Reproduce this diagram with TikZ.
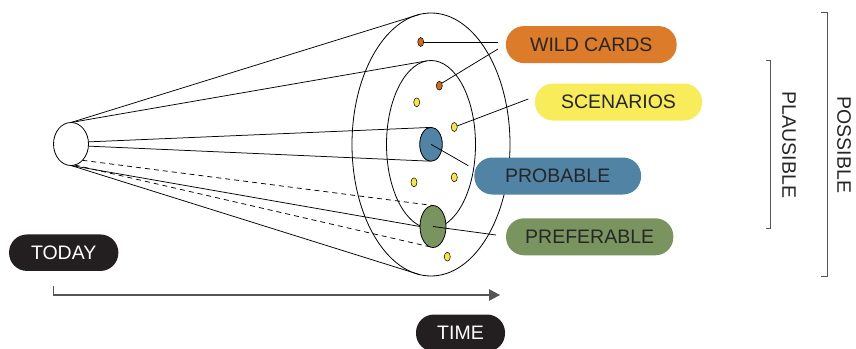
\documentclass[tikz,border=0pt]{standalone}
\usepackage{fontspec}
\setmainfont{Liberation Sans}
\usetikzlibrary{shapes.geometric,arrows.meta}
\definecolor{ink}{HTML}{262626}
\definecolor{night}{HTML}{231F20}
\definecolor{wildc}{HTML}{DC7B2A}
\definecolor{scenc}{HTML}{F8EC5B}
\definecolor{probc}{HTML}{5083A4}
\definecolor{prefc}{HTML}{7A9460}
\definecolor{dotyellow}{HTML}{F6E545}
\definecolor{dotorange}{HTML}{D06A20}
\definecolor{axisgray}{HTML}{555555}
\begin{document}
\begin{tikzpicture}[x=1pt,y=-1pt,
  ring/.style 2 args={ellipse, draw=black, line width=0.8pt, inner sep=0pt, outer sep=0pt,
    minimum width=#1, minimum height=#2},
  dot/.style={ellipse, draw=black, line width=0.5pt, fill=#1, inner sep=0pt, outer sep=0pt,
    minimum width=6pt, minimum height=9pt},
  cone/.style={line width=0.75pt},
  conedash/.style={line width=0.75pt, dash pattern=on 5pt off 4pt},
  link/.style={line width=0.75pt},
  labelfont/.style={font=\fontsize{19.5}{23}\selectfont},
  pill/.style={fill=#1, rounded corners=18pt, minimum height=37pt, inner sep=0pt,
    labelfont, text=ink},
  darkpill/.style={fill=night, rounded corners=18pt, minimum height=36.5pt, inner sep=0pt,
    labelfont, text=white},
  bracket/.style={draw=axisgray, line width=1pt},
  sidelabel/.style={rotate=-90, labelfont, text=ink}
]
\useasboundingbox (0,0) rectangle (856,348);

% the cone: today, the two horizons and the inner futures
\node[ring={35pt}{43pt}] (today) at (71,144) {};
\node[ring={158pt}{263pt}] (outer) at (431,144.5) {};
\node[ring={89pt}{168pt}] (inner) at (431,144.5) {};
\node[ring={22.6pt}{34pt}, fill=probc] (prob) at (431,144.3) {};
\node[ring={26pt}{42pt}, fill=prefc] (pref) at (433,226.5) {};

\draw[cone] (today.north) -- (outer.95);
\draw[cone] (today.north) -- (inner.93);
\draw[cone] (today.7) -- (prob.95);
\draw[cone] (today.-7) -- (prob.-95);
\draw[conedash] (today.-55) -- (pref.north);
\draw[cone] (today.south) -- (pref.west);
\draw[conedash] (today.-80) -- (pref.-100);
\draw[cone] (today.south) -- (outer.-95);

% free ends of the leader lines
\coordinate (wcA) at (498,42);
\coordinate (wcB) at (498,49);
\coordinate (scA) at (528.3,99);
\coordinate (prA) at (468.3,165.7);
\coordinate (pfA) at (496,235);

\node[dot=dotorange] (o1) at (420.7,42) {};
\node[dot=dotorange] (o2) at (439.3,85.7) {};
\node[dot=dotyellow] (y1) at (416.7,102.3) {};
\node[dot=dotyellow] (y2) at (454.3,127) {};
\node[dot=dotyellow] (y3) at (414,182.3) {};
\node[dot=dotyellow] (y4) at (454.3,177.3) {};
\node[dot=dotyellow] (y5) at (447.3,256.7) {};

\draw[link] (o1.east) -- (wcA);
\draw[link] (o2.45) -- (wcB);
\draw[link] (y2.20) -- (scA);
\draw[link] (prob.center) -- (prA);
\draw[link] (pref.center) -- (pfA);

% labels
\node[pill=wildc, minimum width=170.7pt] (wild) at (591.3,44.6) {WILD CARDS};
\node[pill=scenc, minimum width=167pt] (scen) at (618.5,102) {SCENARIOS};
\node[pill=probc, minimum width=166.7pt] (probl) at (557.7,176) {PROBABLE};
\node[pill=prefc, minimum width=167.3pt] (prefl) at (589.7,236.8) {PREFERABLE};
\node[darkpill, minimum width=109.3pt] (todayl) at (63.7,252.7) {TODAY};
\node[darkpill, minimum width=89pt, minimum height=37pt] (timel) at (460.5,333) {TIME};

% time axis
\coordinate (axS) at (53.7,286);
\coordinate (axC) at (53.7,295);
\coordinate (axE) at (500,295);
\draw[draw=axisgray, line width=1.1pt, -{Triangle[length=11pt,width=11.5pt]}] (axS) -- (axC) -- (axE);

% brackets
\coordinate (pl1) at (766,60.7);
\coordinate (pl2) at (770.7,60.7);
\coordinate (pl3) at (770.7,228.3);
\coordinate (pl4) at (766,228.3);
\draw[bracket] (pl1) -- (pl2) -- (pl3) -- (pl4);
\node[sidelabel] (plaus) at (789,145) {PLAUSIBLE};

\coordinate (ps1) at (821,12.3);
\coordinate (ps2) at (827.7,12.3);
\coordinate (ps3) at (827.7,276);
\coordinate (ps4) at (821,276);
\draw[bracket] (ps1) -- (ps2) -- (ps3) -- (ps4);
\node[sidelabel] (poss) at (844,145) {POSSIBLE};
\end{tikzpicture}
\end{document}
